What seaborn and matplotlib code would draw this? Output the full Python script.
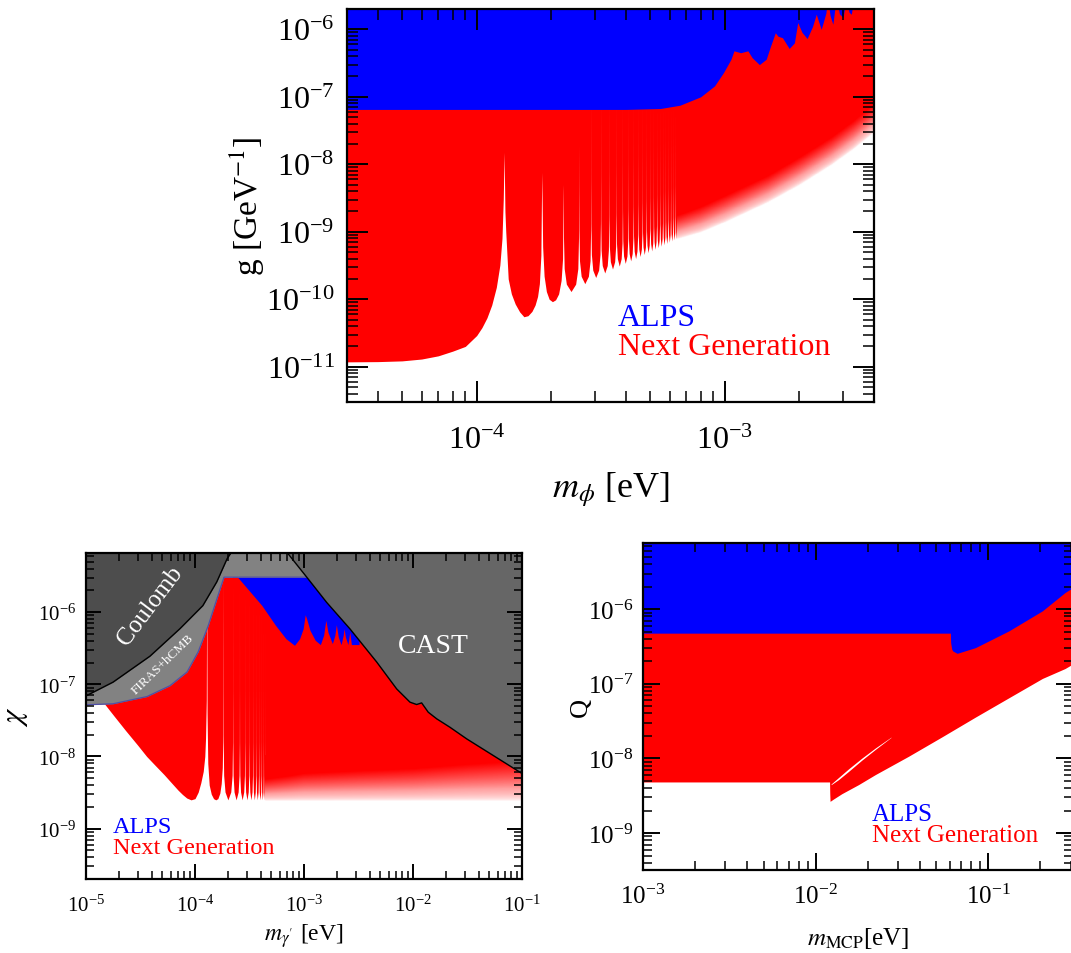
import numpy as np
import pandas as pd
import matplotlib
matplotlib.use("Agg")
import matplotlib.pyplot as plt
import seaborn as sns
from matplotlib.ticker import FixedLocator, LogFormatterMathtext, NullFormatter
from matplotlib.colors import LinearSegmentedColormap

# ======================= DATA =======================
# ---- top panel: ALPs, g vs m_phi ----
top_alps_m = [3e-5, 4e-4, 5.5e-4, 6.6e-4, 8e-4, 9.1e-4, 9.9e-4, 1.06e-3, 1.09e-3, 1.16e-3,
              1.24e-3, 1.29e-3, 1.38e-3, 1.47e-3, 1.53e-3, 1.6e-3, 1.64e-3, 1.71e-3, 1.82e-3,
              1.91e-3, 1.97e-3, 2.05e-3, 2.15e-3, 2.26e-3, 2.34e-3, 2.45e-3, 2.56e-3, 2.6e-3,
              2.66e-3, 2.73e-3, 2.82e-3, 2.9e-3, 3.0e-3, 3.1e-3, 3.17e-3, 3.24e-3, 3.32e-3, 4e-3]
top_alps_g = [6.5e-8, 6.5e-8, 6.7e-8, 7.5e-8, 1.0e-7, 1.45e-7, 2.3e-7, 3.6e-7, 4.8e-7, 4.5e-7,
              4.8e-7, 3.8e-7, 3.0e-7, 3.6e-7, 5.6e-7, 8.9e-7, 7.9e-7, 7.5e-7, 5.2e-7,
              6.3e-7, 1.26e-6, 9e-7, 7.3e-7, 1.1e-6, 1.67e-6, 1.0e-6, 1.75e-6, 3e-6,
              1.6e-6, 1.19e-6, 3e-6, 1.7e-6, 1.5e-6, 3e-6, 1.8e-6, 1.67e-6, 3e-6, 3e-6]
top_ng_m = [3e-5, 4e-5, 5e-5, 6e-5, 7e-5, 8e-5, 9e-5, 1.0e-4, 1.05e-4, 1.1e-4, 1.15e-4, 1.2e-4,
            1.24e-4, 1.265e-4, 1.28e-4, 1.29e-4,
            1.30e-4, 1.31e-4, 1.34e-4, 1.38e-4, 1.43e-4, 1.49e-4, 1.55e-4, 1.61e-4, 1.67e-4,
            1.72e-4, 1.76e-4, 1.79e-4, 1.815e-4, 1.83e-4,
            1.845e-4, 1.87e-4, 1.91e-4, 1.96e-4, 2.02e-4, 2.08e-4, 2.14e-4, 2.19e-4, 2.22e-4]
top_ng_g = [1.18e-11, 1.19e-11, 1.22e-11, 1.3e-11, 1.45e-11, 1.7e-11, 2.0e-11, 2.9e-11, 3.8e-11,
            5.3e-11, 8.2e-11, 1.5e-10, 3.2e-10, 8e-10, 3e-9, 1.5e-8,
            2e-9, 1e-9, 2e-10, 1.2e-10, 8.5e-11, 6.5e-11, 5.5e-11, 5.7e-11, 6.6e-11,
            8.2e-11, 1.1e-10, 1.7e-10, 4.5e-10, 7.6e-9,
            6e-10, 2.2e-10, 1.3e-10, 1.0e-10, 9.2e-11, 9.8e-11, 1.2e-10, 1.9e-10, 4e-10]
top_tip_m = [2.234e-4, 2.58e-4, 2.885e-4, 3.16e-4, 3.413e-4, 3.649e-4, 3.87e-4, 4.079e-4,
             4.278e-4, 4.469e-4, 4.651e-4, 4.827e-4, 4.996e-4, 5.16e-4, 5.319e-4, 5.473e-4,
             5.623e-4, 5.769e-4, 5.912e-4, 6.051e-4, 6.187e-4, 6.32e-4, 6.45e-4]
top_tip_g = [5e-9, 2e-8] + [1e-7] * 21
top_floor_g = [1.3e-10, 1.7e-10, 2.1e-10, 2.45e-10, 2.8e-10, 3.1e-10, 3.4e-10, 3.7e-10,
               4.0e-10, 4.3e-10, 4.6e-10, 4.9e-10, 5.2e-10, 5.5e-10, 5.8e-10, 6.1e-10,
               6.4e-10, 6.7e-10, 7.0e-10, 7.3e-10, 7.6e-10, 7.9e-10]
top_fade_m = [6.45e-4, 8e-4, 1e-3, 1.5e-3, 2e-3, 2.7e-3, 3.3e-3, 4e-3]
top_fade_low = [8.0e-10, 1.0e-9, 1.4e-9, 2.8e-9, 5e-9, 1e-8, 1.7e-8, 3e-8]
top_fade_high = [1.8e-9, 2.4e-9, 3.5e-9, 7e-9, 1.3e-8, 2.6e-8, 4.5e-8, 8e-8]

# ---- bottom-left panel: dark photon, chi vs m_gamma' ----
bl_cap = 3.05e-6
bl_ng_m = [1.0e-5, 1.2e-5, 1.5e-5, 1.79e-5, 2.3e-5, 2.98e-5, 3.6e-5, 4.28e-5, 5.2e-5, 6.17e-5,
           7.0e-5, 7.67e-5, 8.4e-5, 9.2e-5, 1.0e-4, 1.07e-4, 1.13e-4, 1.19e-4, 1.23e-4,
           1.25e-4, 1.27e-4, 1.28e-4, 1.29e-4, 1.31e-4, 1.35e-4, 1.41e-4, 1.48e-4, 1.55e-4,
           1.62e-4, 1.69e-4, 1.74e-4, 1.78e-4, 1.80e-4]
bl_ng_chi = [1.1e-7, 8e-8, 5.2e-8, 3.7e-8, 2.3e-8, 1.43e-8, 1.0e-8, 7.6e-9, 5.6e-9, 4.2e-9,
             3.4e-9, 2.97e-9, 2.65e-9, 2.5e-9, 2.6e-9, 3.2e-9, 4.3e-9, 6.2e-9, 1.0e-8,
             1.8e-8, 6e-8, 3.05e-6, 4e-8, 8e-9, 4e-9, 3e-9, 2.6e-9, 2.5e-9,
             2.6e-9, 3.1e-9, 4.2e-9, 7e-9, 2e-8]
bl_tip_m = [1.81e-4, 2.217e-4, 2.56e-4, 2.862e-4, 3.135e-4, 3.387e-4, 3.62e-4, 3.84e-4,
            4.048e-4, 4.245e-4, 4.434e-4]
bl_tip_chi = [3.05e-6] * 11
bl_floor_chi = [2.5e-9] * 10
bl_fade_m = [4.434e-4, 7e-4, 1e-3, 3e-3, 1e-2, 3e-2, 1e-1]
bl_fade_low = [2.5e-9, 2.5e-9, 2.5e-9, 2.5e-9, 2.5e-9, 2.5e-9, 2.5e-9]
bl_fade_high = [5e-9, 5.5e-9, 6e-9, 6.5e-9, 7e-9, 8e-9, 9e-9]
bl_alps_m = [2.2e-4, 2.46e-4, 4.1e-4, 5.48e-4, 6.82e-4, 8.18e-4, 9.12e-4, 9.82e-4, 1.026e-3,
             1.057e-3, 1.135e-3, 1.268e-3, 1.413e-3, 1.514e-3, 1.585e-3, 1.66e-3, 1.82e-3,
             1.92e-3, 1.98e-3, 2.065e-3, 2.19e-3, 2.29e-3, 2.33e-3, 2.4e-3, 2.53e-3, 2.63e-3,
             2.72e-3, 3.2e-3]
bl_alps_chi = [4e-6, 3.05e-6, 1.24e-6, 6.56e-7, 4.29e-7, 3.47e-7, 4.29e-7, 5.89e-7, 9.2e-7,
               8.1e-7, 5.58e-7, 4.07e-7, 3.55e-7, 4.79e-7, 7.69e-7, 5.25e-7, 3.66e-7,
               4.79e-7, 6.7e-7, 4.5e-7, 3.55e-7, 4.79e-7, 5.9e-7, 4.5e-7, 3.55e-7, 5.3e-7,
               3.55e-7, 3.55e-7]
bl_firas_m = [1e-5, 1.77e-5, 3.63e-5, 5.89e-5, 8.45e-5, 1.07e-4, 1.32e-4, 1.585e-4, 1.845e-4, 1e-1]
bl_firas_chi = [5.19e-8, 5.37e-8, 6.76e-8, 9.55e-8, 1.48e-7, 2.82e-7, 6.46e-7, 1.51e-6, 3.05e-6, 3.05e-6]
bl_firas_line_end = 1.06e-3   # where the FIRAS edge meets the CAST edge
bl_coul_m = [1e-5, 1.77e-5, 3.86e-5, 7.28e-5, 1.18e-4, 1.585e-4, 1.97e-4, 2.14e-4, 2.3e-4]
bl_coul_chi = [6.9e-8, 1.07e-7, 2.45e-7, 5.9e-7, 1.23e-6, 2.63e-6, 5.5e-6, 6.64e-6, 1e-5]
bl_cast_m = [6.5e-4, 7.03e-4, 1.06e-3, 1.61e-3, 2.64e-3, 4.65e-3, 7.08e-3, 9.38e-3, 1.08e-2,
             1.20e-2, 1.38e-2, 1.65e-2, 2.18e-2, 3.11e-2, 1e-1]
bl_cast_chi = [1e-5, 6.64e-6, 3.05e-6, 1.37e-6, 5.86e-7, 2.03e-7, 8.63e-8, 5.65e-8, 5.24e-8,
               5.52e-8, 4.1e-8, 3.32e-8, 2.54e-8, 1.75e-8, 5.8e-9]

# ---- bottom-right panel: millicharged particles, Q vs m_MCP ----
q_alps_m = [1e-3, 0.0604, 0.0606, 0.0615, 0.0624, 0.0661, 0.0843, 0.1318, 0.2061, 0.2786, 0.31]
q_alps_q = [4.77e-7, 4.77e-7, 3.56e-7, 2.9e-7, 2.75e-7, 2.56e-7, 3.05e-7, 5.12e-7, 9.5e-7, 1.67e-6, 1.95e-6]
q_ng_m = [1e-3, 0.01205, 0.01208, 0.01213, 0.0127, 0.01419, 0.01774, 0.02218, 0.03459,
          0.05408, 0.08433, 0.1318, 0.2061, 0.2786, 0.31]
q_ng_q = [4.84e-9, 4.84e-9, 3.4e-9, 2.66e-9, 2.86e-9, 3.37e-9, 4.46e-9, 6.07e-9, 1.07e-8,
          1.95e-8, 3.58e-8, 6.5e-8, 1.18e-7, 1.6e-7, 1.85e-7]
q_gap_m = [0.0123, 0.01358, 0.01552, 0.01854, 0.02218, 0.02735]
q_gap_low = [4.45e-9, 5.2e-9, 6.7e-9, 9.5e-9, 1.32e-8, 1.91e-8]
q_gap_up = [4.55e-9, 5.55e-9, 7.25e-9, 1.01e-8, 1.38e-8, 1.93e-8]

# text labels
legend_labels = ["ALPS", "Next Generation"]

# ======================= STYLE =======================
sns.set_theme(style="ticks")
plt.rcParams["font.family"] = ["Liberation Serif", "DejaVu Serif"]
plt.rcParams["mathtext.fontset"] = "stix"
plt.rcParams["axes.linewidth"] = 1.6
plt.rcParams["axes.edgecolor"] = "black"
plt.rcParams["axes.axisbelow"] = False

RED = "#ff0000"
BLUE = "#0000ff"
W, H = 1071, 954
fig = plt.figure(figsize=(W / 100, H / 100), dpi=100)


def ax_px(l, t, r, b):
    return fig.add_axes([l / W, 1 - b / H, (r - l) / W, (b - t) / H])


def log_ticks(lo, hi):
    e0, e1 = int(np.floor(np.log10(lo))), int(np.ceil(np.log10(hi)))
    major = [10.0 ** e for e in range(e0, e1 + 1) if lo * 0.999 <= 10.0 ** e <= hi * 1.001]
    minor = [k * 10.0 ** e for e in range(e0, e1 + 1) for k in range(2, 10)
             if lo <= k * 10.0 ** e <= hi]
    return major, minor


def style(ax, xlim, ylim, fs, maj, mnr, xpad, ypad):
    ax.set_xscale("log")
    ax.set_yscale("log")
    ax.set_xlim(*xlim)
    ax.set_ylim(*ylim)
    for a, lim in ((ax.xaxis, xlim), (ax.yaxis, ylim)):
        major, minor = log_ticks(*lim)
        a.set_major_locator(FixedLocator(major))
        a.set_minor_locator(FixedLocator(minor))
        a.set_major_formatter(LogFormatterMathtext())
        a.set_minor_formatter(NullFormatter())
    ax.tick_params(which="both", direction="in", top=True, right=True,
                   labelsize=fs, colors="black")
    ax.tick_params(which="major", length=maj, width=1.4)
    ax.tick_params(which="minor", length=mnr, width=1.1)
    ax.tick_params(axis="x", which="major", pad=xpad)
    ax.tick_params(axis="y", which="major", pad=ypad)
    ax.set_axisbelow(False)
    ax.set_facecolor("white")


def needle_edge(tip_m, tip_v, floor_v):
    """Resonance needles: tips joined to the dip floors (shape template in log space)."""
    lt = np.log10(tip_m)
    tv = np.log10(tip_v)
    fl = np.log10(floor_v)
    fr = [0.004, 0.015, 0.06, 0.2]
    up = [1.5, 0.8, 0.34, 0.11]
    xs, ys = [], []
    for i in range(len(lt) - 1):
        a, b = lt[i], lt[i + 1]
        d = b - a
        f = fl[i]
        xs.append(a)
        ys.append(tv[i])
        for q, u in zip(fr, up):
            xs.append(a + q * d)
            ys.append(min(f + u, tv[i]))
        xs.append(a + 0.5 * d)
        ys.append(f)
        for q, u in zip(fr[::-1], up[::-1]):
            xs.append(b - q * d)
            ys.append(min(f + u, tv[i + 1]))
    xs.append(lt[-1])
    ys.append(tv[-1])
    return list(10 ** np.array(xs)), list(10 ** np.array(ys))


wr_cmap = LinearSegmentedColormap.from_list("wr", ["#ffffff", "#ffa0a0", RED])


def fade(ax, m, low, high, gamma=0.6, z=1.05):
    lm, ll, lh = np.log10(m), np.log10(low), np.log10(high)
    X = np.linspace(lm[0], lm[-1], 500)
    lo = np.interp(X, lm, ll)
    hi = np.interp(X, lm, lh)
    Y = np.linspace(lo.min() - 0.1, hi.max() + 0.05, 300)
    T = np.clip((Y[:, None] - lo[None, :]) / (hi - lo)[None, :], 0, 1) ** gamma
    XX, YY = np.meshgrid(10 ** X, 10 ** Y)
    ax.pcolormesh(XX, YY, T, cmap=wr_cmap, vmin=0, vmax=1, shading="gouraud", zorder=z)


# ======================= TOP PANEL =======================
ax1 = ax_px(347, 10, 874, 403)
style(ax1, (3e-5, 4e-3), (3e-12, 2e-6), 23, 15, 8, 17, 9)
nx, ny = needle_edge(top_tip_m, top_tip_g, top_floor_g)
edge_m = list(top_ng_m) + nx + list(top_fade_m)
edge_g = list(top_ng_g) + ny + list(top_fade_high)
ax1.fill_between(edge_m, edge_g, 1e-3, color=RED, lw=0, zorder=1)
fade(ax1, top_fade_m, top_fade_low, top_fade_high)
ax1.fill_between(top_alps_m, top_alps_g, 1e-3, color=BLUE, lw=0, zorder=1.2)
ax1.text(0.514, 0.216, legend_labels[0], color=BLUE, fontsize=23, transform=ax1.transAxes, va="center")
ax1.text(0.514, 0.142, legend_labels[1], color=RED, fontsize=23, transform=ax1.transAxes, va="center")
ax1.set_xlabel(r"$m_\phi$ [eV]", fontsize=26, labelpad=10, color="black")
ax1.set_ylabel(r"g [GeV$^{-1}$]", fontsize=24, labelpad=-1, color="black")

# ======================= BOTTOM-LEFT PANEL =======================
ax2 = ax_px(86, 554, 522, 880)
style(ax2, (1e-5, 1e-1), (2e-10, 6.6e-6), 15, 11, 6, 11, 7)
nx, ny = needle_edge(bl_tip_m, bl_tip_chi, bl_floor_chi)
e_m = list(bl_ng_m) + nx + list(bl_fade_m)
e_c = list(bl_ng_chi) + ny + list(bl_fade_high)
ax2.fill_between(e_m, e_c, bl_cap, color=RED, lw=0, zorder=1)
fade(ax2, bl_fade_m, bl_fade_low, bl_fade_high, gamma=0.6)
ax2.fill_between(bl_alps_m, bl_alps_chi, bl_cap, color=BLUE, lw=0, zorder=1.2)
ax2.fill_between(bl_firas_m, bl_firas_chi, 1e-3, color="#828282", lw=0, zorder=1.3)
ax2.fill_between(bl_coul_m, bl_coul_chi, 1e-3, color="#4d4d4d", lw=0, zorder=1.4)
ax2.fill_between(bl_cast_m, bl_cast_chi, 1e-3, color="#666666", lw=0, zorder=1.5)
firas_df = pd.DataFrame({"m": bl_firas_m[:-1] + [bl_firas_line_end],
                         "chi": bl_firas_chi[:-1] + [bl_firas_chi[-1]]})
sns.lineplot(data=firas_df, x="m", y="chi", ax=ax2, color="#4f4fa8", lw=0.9,
             sort=False, estimator=None, zorder=1.45)
coul_df = pd.DataFrame({"m": bl_coul_m, "chi": bl_coul_chi})
sns.lineplot(data=coul_df, x="m", y="chi", ax=ax2, color="black", lw=1.0,
             sort=False, estimator=None, zorder=1.6)
cast_df = pd.DataFrame({"m": bl_cast_m, "chi": bl_cast_chi})
sns.lineplot(data=cast_df, x="m", y="chi", ax=ax2, color="black", lw=1.0,
             sort=False, estimator=None, zorder=1.6)
ax2.set_xlim(1e-5, 1e-1)
ax2.set_ylim(2e-10, 6.6e-6)
ax2.text(3.86e-5, 1.23e-6, "Coulomb", color="white", fontsize=18, rotation=53,
         ha="center", va="center", zorder=3)
ax2.text(5.06e-5, 1.92e-7, "FIRAS+hCMB", color="white", fontsize=9.5, rotation=44,
         ha="center", va="center", zorder=3)
ax2.text(1.52e-2, 3.44e-7, "CAST", color="white", fontsize=20, ha="center", va="center", zorder=3)
ax2.text(0.062, 0.16, legend_labels[0], color=BLUE, fontsize=17.5, transform=ax2.transAxes, va="center")
ax2.text(0.062, 0.098, legend_labels[1], color=RED, fontsize=17.5, transform=ax2.transAxes, va="center")
ax2.set_xlabel(r"$m_{\gamma'}$ [eV]", fontsize=17, labelpad=4, color="black")
ax2.set_ylabel(r"$\chi$", fontsize=22, labelpad=6, color="black")

# ======================= BOTTOM-RIGHT PANEL =======================
ax3 = ax_px(643, 544, 1073, 871)
style(ax3, (1e-3, 0.31), (3.2e-10, 7.7e-6), 18, 12, 6.5, 10, 7)
ax3.fill_between(q_ng_m, q_ng_q, 1e-3, color=RED, lw=0, zorder=1)
ax3.fill_between(q_gap_m, q_gap_low, q_gap_up, color="white", lw=0, zorder=1.1)
ax3.fill_between(q_alps_m, q_alps_q, 1e-3, color=BLUE, lw=0, zorder=1.2)
ax3.text(0.533, 0.171, legend_labels[0], color=BLUE, fontsize=18, transform=ax3.transAxes, va="center")
ax3.text(0.533, 0.107, legend_labels[1], color=RED, fontsize=18, transform=ax3.transAxes, va="center")
ax3.set_xlabel(r"$m_{\rm MCP}$[eV]", fontsize=18, labelpad=12, color="black")
ax3.set_ylabel("Q", fontsize=19, labelpad=-3, color="black")

fig.savefig("out.png", dpi=100)
